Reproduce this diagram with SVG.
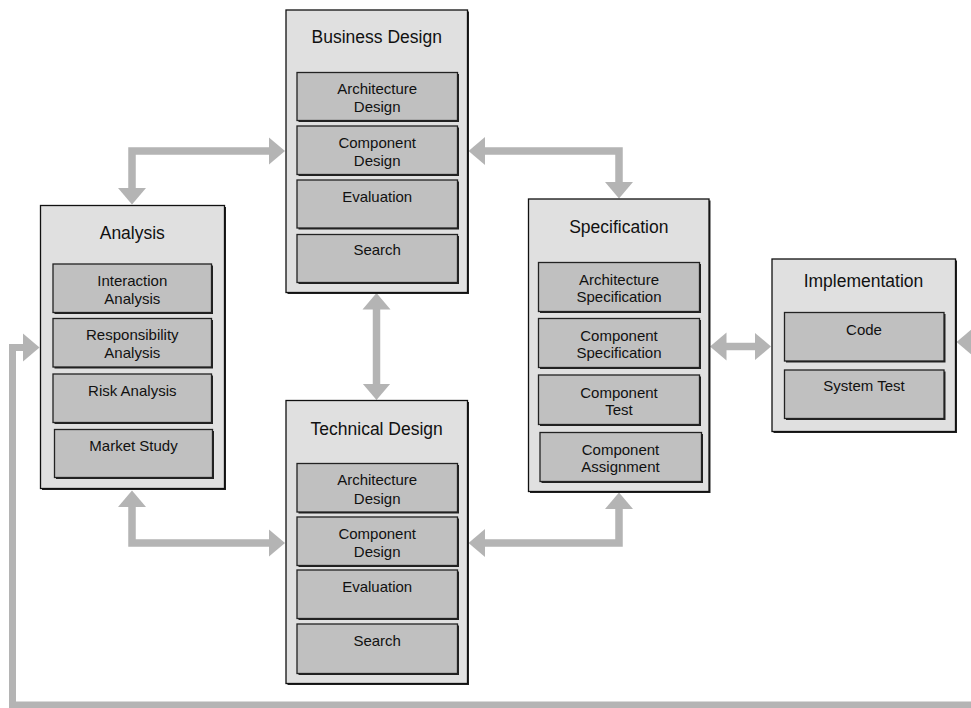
<svg xmlns="http://www.w3.org/2000/svg" width="971" height="708" viewBox="0 0 971 708">
<style>
.outer{fill:#e0e0e0;stroke:#111;stroke-width:1.3}
.inner{fill:#c0c0c0;stroke:#222;stroke-width:1.3}
.shadow{fill:#222}
.title{font-family:"Liberation Sans",Arial,sans-serif;font-size:17.5px;fill:#111;text-anchor:middle}
.label{font-family:"Liberation Sans",Arial,sans-serif;font-size:15px;fill:#111;text-anchor:middle}
.conn{fill:none;stroke:#b4b4b4;stroke-width:7.5;stroke-linejoin:miter}
.feedback{fill:none;stroke:#b4b4b4;stroke-width:7;stroke-linejoin:miter}
</style>
<defs>
<marker id="head" markerUnits="userSpaceOnUse" markerWidth="17" markerHeight="29" viewBox="0 -14.5 17 29" refX="0.5" refY="0" orient="auto-start-reverse">
<path d="M0,-14 L16.5,0 L0,14 Z" fill="#b4b4b4"/>
</marker>
</defs>
<rect width="971" height="708" fill="#fff"/>

<g id="connectors">
<path class="conn" d="M132,188.5 L132,151 L269,151" marker-start="url(#head)" marker-end="url(#head)"/>
<path class="conn" d="M484.5,151 L619,151 L619,182.5" marker-start="url(#head)" marker-end="url(#head)"/>
<path class="conn" d="M376.5,309 L376.5,384" marker-start="url(#head)" marker-end="url(#head)"/>
<path class="conn" d="M132,506.5 L132,543 L269,543" marker-start="url(#head)" marker-end="url(#head)"/>
<path class="conn" d="M484.5,543 L619,543 L619,508.5" marker-start="url(#head)" marker-end="url(#head)"/>
<path class="conn" d="M726,346.5 L755,346.5" marker-start="url(#head)" marker-end="url(#head)"/>
<path class="feedback" d="M972.5,342 L990,342 L990,705 L12.5,705 L12.5,347.5 L23.5,347.5" marker-start="url(#head)" marker-end="url(#head)"/>
</g>

<g id="analysis">
<rect class="shadow" x="42" y="207" width="184" height="283"/>
<rect class="outer" x="40.5" y="205.5" width="184" height="283"/>
<text class="title" x="132.3" y="238.5">Analysis</text>
<rect class="shadow" x="54.5" y="265.5" width="158.5" height="48.5"/>
<rect class="inner" x="53" y="264" width="158.5" height="48.5"/>
<text class="label" x="132.3" y="285.5">Interaction</text>
<text class="label" x="132.3" y="303.5">Analysis</text>
<rect class="shadow" x="54.5" y="320" width="158.5" height="48.5"/>
<rect class="inner" x="53" y="318.5" width="158.5" height="48.5"/>
<text class="label" x="132.3" y="340">Responsibility</text>
<text class="label" x="132.3" y="358">Analysis</text>
<rect class="shadow" x="54.5" y="375.5" width="158.5" height="48.5"/>
<rect class="inner" x="53" y="374" width="158.5" height="48.5"/>
<text class="label" x="132.3" y="395.5">Risk Analysis</text>
<rect class="shadow" x="56" y="431" width="158" height="48"/>
<rect class="inner" x="54.5" y="429.5" width="158" height="48"/>
<text class="label" x="133.5" y="451">Market Study</text>
</g>

<g id="business-design">
<rect class="shadow" x="287.5" y="11.5" width="181.5" height="282.5"/>
<rect class="outer" x="286" y="10" width="181.5" height="282.5"/>
<text class="title" x="376.7" y="43">Business Design</text>
<rect class="shadow" x="298.5" y="74" width="160.5" height="48"/>
<rect class="inner" x="297" y="72.5" width="160.5" height="48"/>
<text class="label" x="377.2" y="93.8">Architecture</text>
<text class="label" x="377.2" y="111.8">Design</text>
<rect class="shadow" x="298.5" y="127.5" width="160.5" height="48.5"/>
<rect class="inner" x="297" y="126" width="160.5" height="48.5"/>
<text class="label" x="377.2" y="148">Component</text>
<text class="label" x="377.2" y="166">Design</text>
<rect class="shadow" x="298.5" y="181.5" width="160.5" height="48"/>
<rect class="inner" x="297" y="180" width="160.5" height="48"/>
<text class="label" x="377.2" y="201.5">Evaluation</text>
<rect class="shadow" x="298.5" y="236" width="160.5" height="48"/>
<rect class="inner" x="297" y="234.5" width="160.5" height="48"/>
<text class="label" x="377.2" y="255">Search</text>
</g>

<g id="technical-design">
<rect class="shadow" x="287.5" y="402" width="181.5" height="283"/>
<rect class="outer" x="286" y="400.5" width="181.5" height="283"/>
<text class="title" x="376.7" y="434.5">Technical Design</text>
<rect class="shadow" x="298.5" y="465" width="160.5" height="48.5"/>
<rect class="inner" x="297" y="463.5" width="160.5" height="48.5"/>
<text class="label" x="377.2" y="485">Architecture</text>
<text class="label" x="377.2" y="503.5">Design</text>
<rect class="shadow" x="298.5" y="518.5" width="160.5" height="48.5"/>
<rect class="inner" x="297" y="517" width="160.5" height="48.5"/>
<text class="label" x="377.2" y="538.5">Component</text>
<text class="label" x="377.2" y="556.5">Design</text>
<rect class="shadow" x="298.5" y="571.5" width="160.5" height="48.5"/>
<rect class="inner" x="297" y="570" width="160.5" height="48.5"/>
<text class="label" x="377.2" y="591.5">Evaluation</text>
<rect class="shadow" x="298.5" y="625.5" width="160.5" height="49.5"/>
<rect class="inner" x="297" y="624" width="160.5" height="49.5"/>
<text class="label" x="377.2" y="646">Search</text>
</g>

<g id="specification">
<rect class="shadow" x="530" y="200.5" width="180.5" height="292.5"/>
<rect class="outer" x="528.5" y="199" width="180.5" height="292.5"/>
<text class="title" x="618.8" y="233">Specification</text>
<rect class="shadow" x="540" y="264" width="161" height="49"/>
<rect class="inner" x="538.5" y="262.5" width="161" height="49"/>
<text class="label" x="619" y="284.5">Architecture</text>
<text class="label" x="619" y="302">Specification</text>
<rect class="shadow" x="540" y="320" width="161" height="49"/>
<rect class="inner" x="538.5" y="318.5" width="161" height="49"/>
<text class="label" x="619" y="340.5">Component</text>
<text class="label" x="619" y="357.7">Specification</text>
<rect class="shadow" x="540" y="376.5" width="161" height="49.5"/>
<rect class="inner" x="538.5" y="375" width="161" height="49.5"/>
<text class="label" x="619" y="397.7">Component</text>
<text class="label" x="619" y="415.4">Test</text>
<rect class="shadow" x="541.5" y="434" width="161.5" height="49"/>
<rect class="inner" x="540" y="432.5" width="161.5" height="49"/>
<text class="label" x="620.5" y="454.7">Component</text>
<text class="label" x="620.5" y="472">Assignment</text>
</g>

<g id="implementation">
<rect class="shadow" x="773.5" y="260.5" width="183.5" height="172.5"/>
<rect class="outer" x="772" y="259" width="183.5" height="172.5"/>
<text class="title" x="863.5" y="287">Implementation</text>
<rect class="shadow" x="786" y="314" width="159.5" height="48.5"/>
<rect class="inner" x="784.5" y="312.5" width="159.5" height="48.5"/>
<text class="label" x="864" y="334.7">Code</text>
<rect class="shadow" x="786" y="371.5" width="159.5" height="48.5"/>
<rect class="inner" x="784.5" y="370" width="159.5" height="48.5"/>
<text class="label" x="864" y="391.4">System Test</text>
</g>
</svg>
